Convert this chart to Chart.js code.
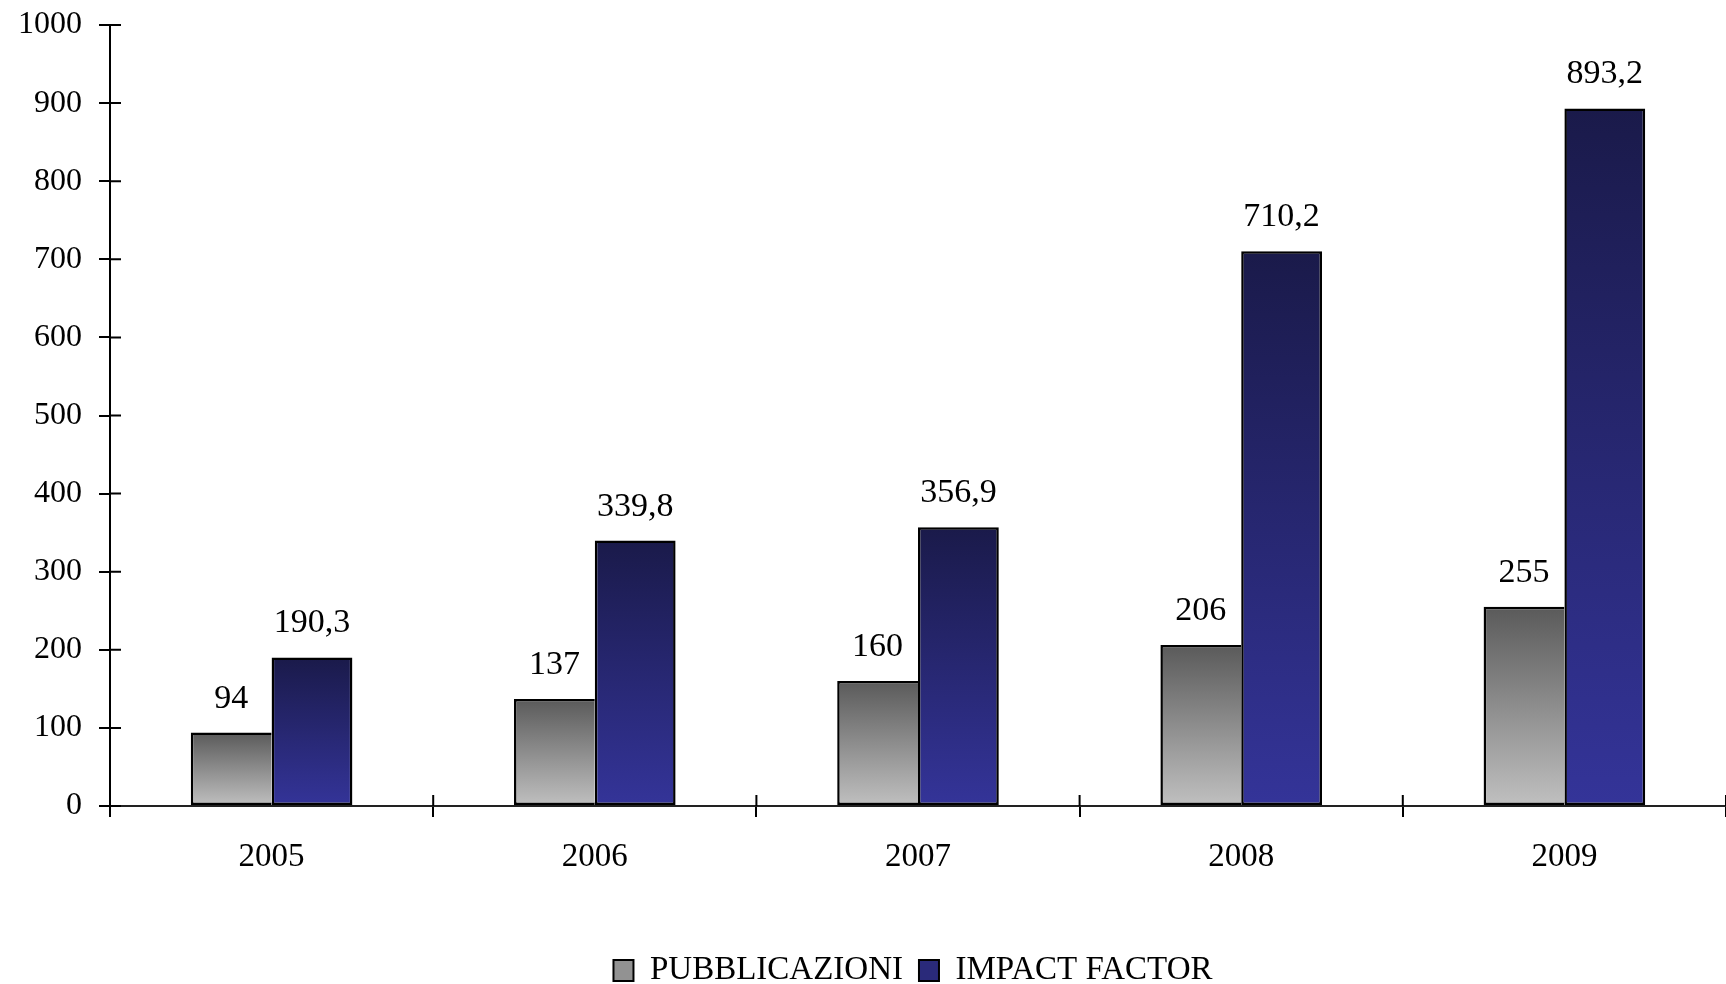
<!DOCTYPE html>
<html>
<head>
<meta charset="utf-8">
<script src="https://cdn.jsdelivr.net/npm/chart.js@4/dist/chart.umd.min.js"></script>
<style>
  html, body { margin: 0; padding: 0; background: #fff; }
  #wrap { width: 1726px; height: 984px; }
</style>
</head>
<body>
<div id="wrap"><canvas id="c" width="1726" height="984"></canvas></div>
<script>
const categories = ['2005', '2006', '2007', '2008', '2009'];
const pubblicazioni = [94, 137, 160, 206, 255];
const impactFactor = [190.3, 339.8, 356.9, 710.2, 893.2];
const seriesNames = ['PUBBLICAZIONI', 'IMPACT FACTOR'];
const yMin = 0, yMax = 1000, yStep = 100;

const FONT = "'Liberation Serif', 'Times New Roman', serif";
Chart.defaults.font.family = FONT;
Chart.defaults.font.size = 32;
Chart.defaults.color = '#000';

const grayTop = '#5a5a5a', grayBottom = '#c0c0c0';
const blueTop = '#1a1a4a', blueBottom = '#343499';

function barGradient(top, bottom) {
  return function (ctx) {
    const chart = ctx.chart;
    if (!chart.chartArea || ctx.type !== 'data') return bottom;
    const ys = chart.scales.y;
    const y0 = ys.getPixelForValue(ctx.raw);
    const y1 = ys.getPixelForValue(0);
    if (!isFinite(y0) || !isFinite(y1) || y0 === y1) return bottom;
    const g = chart.ctx.createLinearGradient(0, y0, 0, y1);
    g.addColorStop(0, top);
    g.addColorStop(1, bottom);
    return g;
  };
}

const valueLabels = {
  id: 'valueLabels',
  afterDatasetsDraw(chart) {
    const ctx = chart.ctx;
    ctx.save();
    ctx.font = '34px ' + FONT;
    ctx.fillStyle = '#000';
    ctx.textAlign = 'center';
    ctx.textBaseline = 'alphabetic';
    chart.data.datasets.forEach((ds, di) => {
      const meta = chart.getDatasetMeta(di);
      meta.data.forEach((el, i) => {
        const txt = String(ds.data[i]).replace('.', ',');
        ctx.fillText(txt, el.x, el.y - 25);
      });
    });
    ctx.restore();
  }
};

const crossTicks = {
  id: 'crossTicks',
  afterDraw(chart) {
    const ctx = chart.ctx;
    const ys = chart.scales.y, xs = chart.scales.x;
    const len = 11;
    ctx.save();
    ctx.strokeStyle = '#000';
    ctx.lineWidth = 2;
    ctx.beginPath();
    ys.ticks.forEach((t, i) => {
      const y = ys.getPixelForTick(i);
      ctx.moveTo(ys.right, y);
      ctx.lineTo(ys.right + len, y);
    });
    const n = categories.length;
    for (let i = 0; i <= n; i++) {
      const x = xs.left + i * (xs.width / n);
      ctx.moveTo(x, xs.top);
      ctx.lineTo(x, xs.top - len);
    }
    ctx.stroke();
    ctx.restore();
  }
};

const legendShift = {
  id: 'legendShift',
  afterLayout(chart) {
    const lg = chart.legend;
    if (lg) { lg.left += 50; lg.right += 50; }
  }
};

new Chart(document.getElementById('c'), {
  type: 'bar',
  data: {
    labels: categories,
    datasets: [
      {
        label: seriesNames[0],
        data: pubblicazioni,
        backgroundColor: barGradient(grayTop, grayBottom),
        borderColor: '#000',
        borderWidth: 2.5,
        borderSkipped: 'right',
        categoryPercentage: 0.5,
        barPercentage: 1.0
      },
      {
        label: seriesNames[1],
        data: impactFactor,
        backgroundColor: barGradient(blueTop, blueBottom),
        borderColor: '#000',
        borderWidth: 2.5,
        borderSkipped: false,
        categoryPercentage: 0.5,
        barPercentage: 1.0
      }
    ]
  },
  options: {
    responsive: false,
    animation: false,
    layout: { padding: { top: 20, right: 0, left: 0, bottom: -13 } },
    plugins: {
      tooltip: { enabled: false },
      legend: {
        position: 'bottom',
        labels: {
          boxWidth: 20,
          boxHeight: 21,
          padding: 16,
          font: { size: 33, family: FONT },
          color: '#000',
          generateLabels(chart) {
            return chart.data.datasets.map((ds, i) => ({
              text: ds.label,
              fillStyle: i === 0 ? '#929292' : '#2a2a7a',
              strokeStyle: '#000',
              lineWidth: 2,
              fontColor: '#000',
              hidden: false,
              datasetIndex: i
            }));
          }
        }
      }
    },
    scales: {
      x: {
        grid: { drawOnChartArea: false, drawTicks: true, tickLength: 11, color: '#000', lineWidth: 2, offset: true },
        border: { display: true, color: '#222', width: 2 },
        ticks: { padding: 21, color: '#000', font: { size: 33, family: FONT }, maxRotation: 0 },
        afterFit(scale) { scale.height = 132; }
      },
      y: {
        min: yMin,
        max: yMax,
        grid: { drawOnChartArea: false, drawTicks: true, tickLength: 11, color: '#000', lineWidth: 2 },
        border: { display: true, color: '#000', width: 2 },
        ticks: { stepSize: yStep, padding: 17, color: '#000', font: { size: 32, family: FONT, lineHeight: 0.5 }, callback: (v) => String(v) },
        afterFit(scale) { scale.width = 110; }
      }
    }
  },
  plugins: [valueLabels, crossTicks, legendShift]
});
</script>
</body>
</html>
